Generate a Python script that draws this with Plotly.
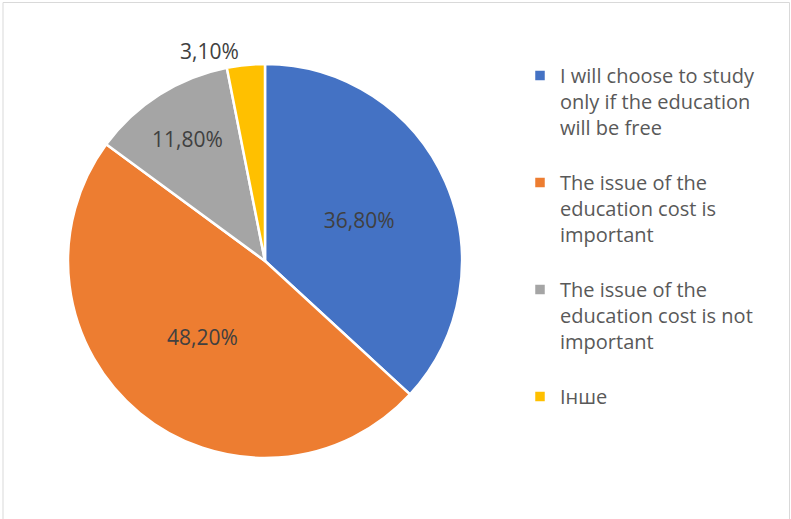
import plotly.graph_objects as go

labels = [
    "I will choose to study<br>only if the education<br>will be free",
    "The issue of the<br>education cost is<br>important",
    "The issue of the<br>education cost is not<br>important",
    "Інше",
]
values = [36.8, 48.2, 11.8, 3.1]
colors = ["#4472C4", "#ED7D31", "#A5A5A5", "#FFC000"]
text_labels = ["36,80%", "48,20%", "11,80%", "3,10%"]
positions = ["inside", "inside", "inside", "outside"]

W, H = 791, 519
cx, cy, r = 265, 261, 197

# extra blank line to widen the gap between legend entries
legend_labels = [lab + "<br> " for lab in labels]

fig = go.Figure(go.Pie(
    labels=legend_labels,
    values=values,
    text=text_labels,
    textinfo="text",
    textposition=positions,
    insidetextorientation="horizontal",
    sort=False,
    direction="clockwise",
    rotation=0,
    marker=dict(colors=colors, line=dict(color="white", width=2.5)),
    textfont=dict(family="Open Sans", size=21, color="#404040"),
    outsidetextfont=dict(family="Open Sans", size=21, color="#404040"),
    domain=dict(x=[(cx - r) / W, (cx + r) / W], y=[1 - (cy + r) / H, 1 - (cy - r) / H]),
    hoverinfo="percent",
))

fig.update_layout(
    width=W, height=H,
    margin=dict(l=0, r=0, t=0, b=0),
    paper_bgcolor="white",
    showlegend=True,
    legend=dict(
        x=520 / W, y=1 - 56 / H, xanchor="left", yanchor="top",
        font=dict(family="Open Sans", size=20, color="#595959"),
        itemwidth=30,
        valign="top",
        traceorder="normal",
    ),
    shapes=[dict(type="rect", xref="paper", yref="paper",
                 x0=3 / W, x1=789.5 / W, y0=-0.01, y1=1 - 2.5 / H,
                 line=dict(color="#D9D9D9", width=1))],
)

fig.write_html("out.html")
